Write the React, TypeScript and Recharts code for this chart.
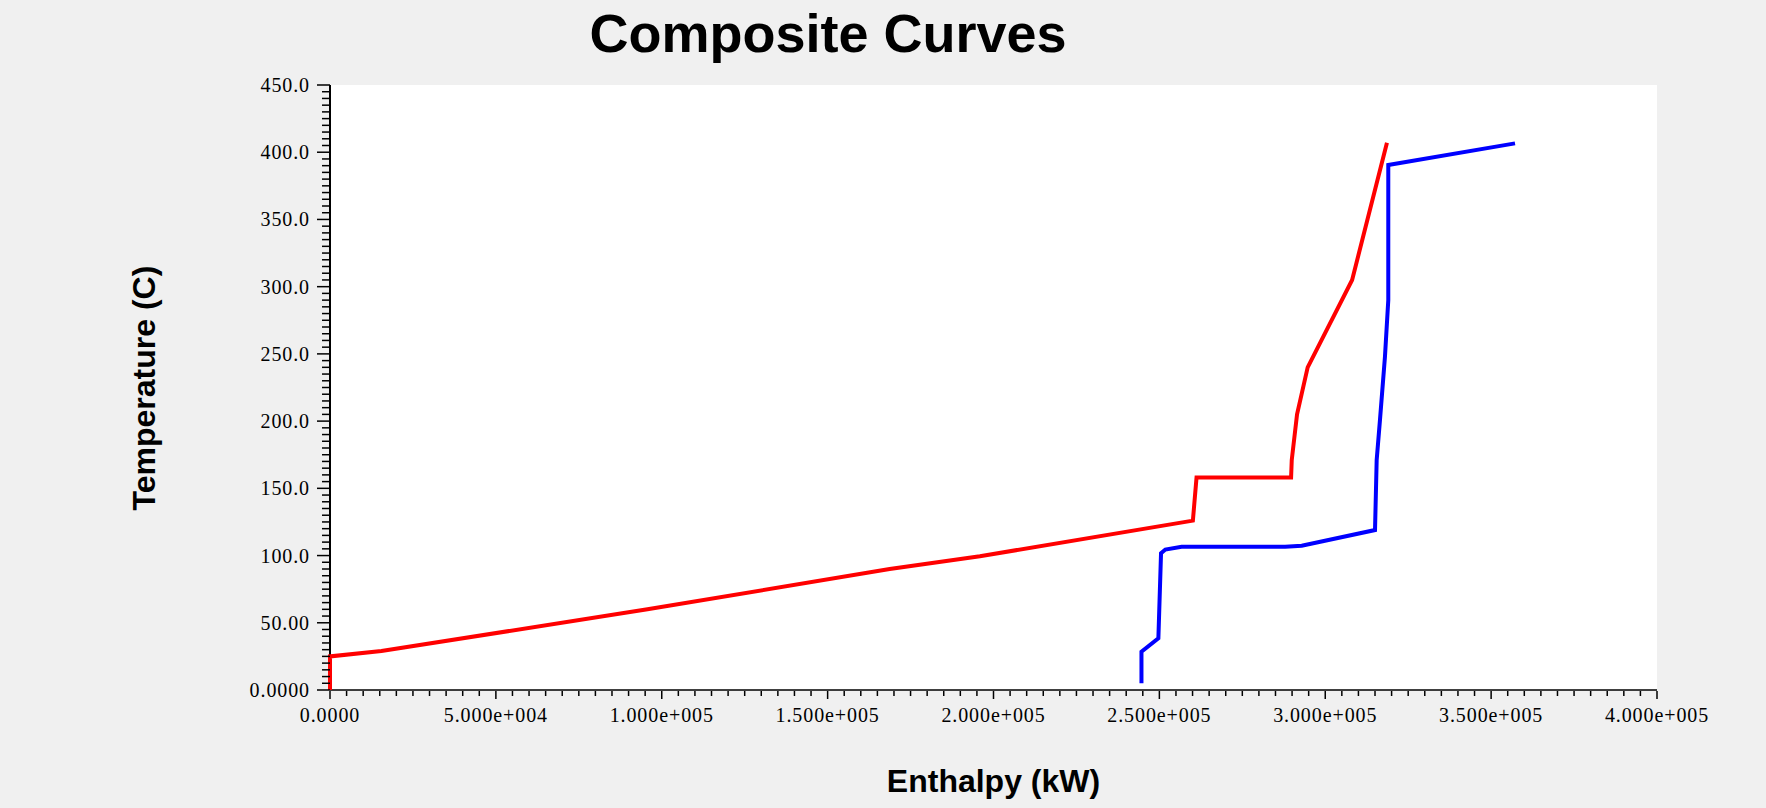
import { LineChart, Line, XAxis, YAxis, CartesianGrid } from 'recharts';

// hot composite curve (red)
const hotEnthalpy = [0, 0, 15500, 95700, 168700, 195900, 260100, 261200, 289700, 289900, 291500, 294700, 308100, 318600];
const hotTemp = [0, 25, 29, 60, 90, 99.5, 126, 158, 158, 171, 205, 240, 305, 407];

// cold composite curve (blue)
const coldEnthalpy = [244600, 244600, 249700, 250500, 251800, 256700, 287900, 292900, 315000, 315500, 316500, 318000, 319000, 319000, 357200];
const coldTemp = [5, 28.5, 38.5, 101.7, 104.5, 106.6, 106.6, 107.3, 119, 171, 201, 248, 290, 390.5, 406.6];

const xTickLabels = ['0.0000', '5.000e+004', '1.000e+005', '1.500e+005', '2.000e+005', '2.500e+005', '3.000e+005', '3.500e+005', '4.000e+005'];
const yTickLabels = ['0.0000', '50.00', '100.0', '150.0', '200.0', '250.0', '300.0', '350.0', '400.0', '450.0'];

const X_MAJOR = 50000;
const X_MINOR = 5000;
const Y_MAJOR = 50;
const Y_MINOR = 5;
const X_MAX = X_MAJOR * (xTickLabels.length - 1);
const Y_MAX = Y_MAJOR * (yTickLabels.length - 1);

const xTicks = Array.from({ length: X_MAX / X_MINOR + 1 }, (_, i) => i * X_MINOR);
const yTicks = Array.from({ length: Y_MAX / Y_MINOR + 1 }, (_, i) => i * Y_MINOR);

const hotData = hotEnthalpy.map((h, i) => ({ h, t: hotTemp[i] }));
const coldData = coldEnthalpy.map((h, i) => ({ h, t: coldTemp[i] }));

const tickFont = { fontFamily: '"Liberation Serif", serif', fontSize: 20, fill: '#000', letterSpacing: 0.9 };

const XTick = (props: any) => {
  const { x, y, payload } = props;
  const v = payload.value;
  const major = v % X_MAJOR === 0;
  return (
    <g>
      <line x1={x} y1={y + 1} x2={x} y2={y + (major ? 9 : 6)} stroke="#000" strokeWidth={1.5} />
      {major && (
        <text x={x} y={y} dy={32} textAnchor="middle" {...tickFont}>
          {xTickLabels[v / X_MAJOR]}
        </text>
      )}
    </g>
  );
};

const YTick = (props: any) => {
  const { x, y, payload } = props;
  const v = payload.value;
  const major = v % Y_MAJOR === 0;
  return (
    <g>
      <line x1={x - (major ? 13 : 8)} y1={y} x2={x} y2={y} stroke="#000" strokeWidth={1.5} />
      {major && (
        <text x={x - 20} y={y} dy={7} textAnchor="end" {...tickFont}>
          {yTickLabels[v / Y_MAJOR]}
        </text>
      )}
    </g>
  );
};

export default function App() {
  const labelFont = { fontFamily: '"Liberation Sans", Arial, sans-serif', fontWeight: 700, fill: '#000' };
  return (
    <div style={{ position: 'absolute', left: 0, top: 0, width: 1766, height: 808, background: '#f0f0f0' }}>
      <LineChart width={1766} height={808} margin={{ top: 85, right: 109, bottom: 0, left: 0 }}>
        <CartesianGrid horizontal={false} vertical={false} fill="#ffffff" />
        <XAxis
          type="number"
          dataKey="h"
          domain={[0, X_MAX]}
          ticks={xTicks}
          interval={0}
          height={118}
          tickSize={0}
          tickMargin={0}
          tickLine={false}
          tick={<XTick />}
          axisLine={{ stroke: '#000', strokeWidth: 1.5 }}
        />
        <XAxis xAxisId="top" orientation="top" type="number" domain={[0, X_MAX]} height={0} tick={false} tickLine={false} axisLine={{ stroke: '#000', strokeWidth: 1.5 }} />
        <YAxis
          type="number"
          dataKey="t"
          domain={[0, Y_MAX]}
          ticks={yTicks}
          interval={0}
          width={330}
          tickSize={0}
          tickMargin={0}
          tickLine={false}
          tick={<YTick />}
          axisLine={{ stroke: '#000', strokeWidth: 2 }}
        />
        <YAxis yAxisId="right" orientation="right" type="number" domain={[0, Y_MAX]} width={0} tick={false} tickLine={false} axisLine={{ stroke: '#000', strokeWidth: 1.5 }} />
        <Line data={hotData} dataKey="t" type="linear" stroke="#ff0000" strokeWidth={4} dot={false} isAnimationActive={false} zIndex={800} />
        <Line data={coldData} dataKey="t" type="linear" stroke="#0000ff" strokeWidth={4} dot={false} isAnimationActive={false} zIndex={800} />
      </LineChart>
      <svg width={1766} height={808} style={{ position: 'absolute', left: 0, top: 0, pointerEvents: 'none' }}>
        <text x={828} y={52} textAnchor="middle" fontSize={54} {...labelFont}>Composite Curves</text>
        <text x={993.5} y={792} textAnchor="middle" fontSize={32} {...labelFont}>Enthalpy (kW)</text>
        <text x={155} y={388} textAnchor="middle" fontSize={32} transform="rotate(-90 155 388)" {...labelFont}>Temperature (C)</text>
      </svg>
    </div>
  );
}
